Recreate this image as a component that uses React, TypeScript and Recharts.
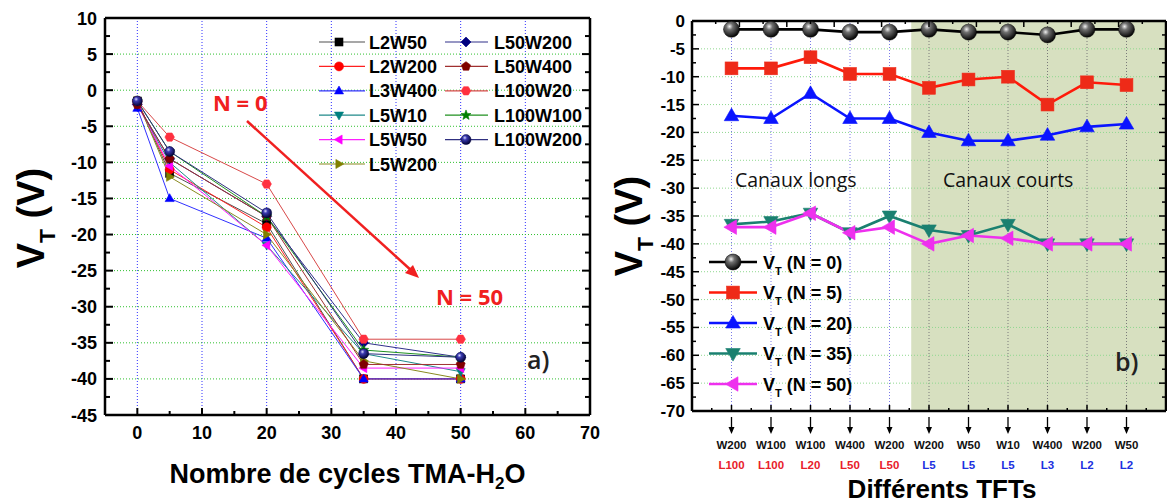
import React from "react";
import {
  LineChart,
  Line,
  XAxis,
  YAxis,
  ReferenceLine,
  ReferenceArea,
  Legend,
  Label,
} from "recharts";

// number of TMA-H2O cycles (N)
const cycles = [0, 5, 20, 35, 50];

// TFTs in the order of panel b)
const devices = ["L100W200", "L100W100", "L100W20", "L50W400", "L50W200", "L5W200", "L5W50", "L5W10", "L3W400", "L2W200", "L2W50"];
const widthLabels = ["W200", "W100", "W100", "W400", "W200", "W200", "W50", "W10", "W400", "W200", "W50"];
const lengthLabels = ["L100", "L100", "L20", "L50", "L50", "L5", "L5", "L5", "L3", "L2", "L2"];

// V_T (V) of each TFT after N cycles
const vtN0 = [-1.5, -1.5, -1.5, -2, -2, -1.5, -2, -2, -2.5, -1.5, -1.5];
const vtN5 = [-8.5, -8.5, -6.5, -9.5, -9.5, -12, -10.5, -10, -15, -11, -11.5];
const vtN20 = [-17, -17.5, -13, -17.5, -17.5, -20, -21.5, -21.5, -20.5, -19, -18.5];
const vtN35 = [-36.5, -36, -34.5, -38, -35, -37.5, -38.5, -36.5, -40, -40, -40];
const vtN50 = [-37, -37, -34.5, -38, -37, -40, -38.5, -39, -40, -40, -40];

// legend order of panel a)
const legendOrder = ["L2W50", "L2W200", "L3W400", "L5W10", "L5W50", "L5W200", "L50W200", "L50W400", "L100W20", "L100W100", "L100W200"];

// ticks
const cycleTicks = [0, 5, 10, 15, 20, 25, 30, 35, 40, 45, 50, 55, 60, 65, 70];
const vtTicksA = [-45, -42.5, -40, -37.5, -35, -32.5, -30, -27.5, -25, -22.5, -20, -17.5, -15, -12.5, -10, -7.5, -5, -2.5, 0, 2.5, 5, 7.5, 10];
const tftTicks = [0.5, 1, 1.5, 2, 2.5, 3, 3.5, 4, 4.5, 5, 5.5, 6, 6.5, 7, 7.5, 8, 8.5, 9, 9.5, 10, 10.5, 11, 11.5];
const vtTicksB = [-70, -67.5, -65, -62.5, -60, -57.5, -55, -52.5, -50, -47.5, -45, -42.5, -40, -37.5, -35, -32.5, -30, -27.5, -25, -22.5, -20, -17.5, -15, -12.5, -10, -7.5, -5, -2.5, 0];

const byCycle = [vtN0, vtN5, vtN20, vtN35, vtN50];

const leftData = cycles.map((c, k) => {
  const row: Record<string, number> = { cycle: c };
  devices.forEach((d, i) => {
    row[d] = byCycle[k][i];
  });
  return row;
});

const rightData = devices.map((d, i) => ({
  pos: i + 1,
  device: d,
  n0: vtN0[i],
  n5: vtN5[i],
  n20: vtN20[i],
  n35: vtN35[i],
  n50: vtN50[i],
}));

const leftStyle: Record<string, { color: string; line: string; shape: string }> = {
  L2W50: { color: "#000000", line: "#505050", shape: "square" },
  L2W200: { color: "#ff0000", line: "#ff2020", shape: "circle" },
  L3W400: { color: "#0000ff", line: "#3030ff", shape: "up" },
  L5W10: { color: "#008080", line: "#208a8a", shape: "down" },
  L5W50: { color: "#ff00ff", line: "#ff20ff", shape: "left" },
  L5W200: { color: "#808000", line: "#8a8a20", shape: "right" },
  L50W200: { color: "#000080", line: "#30308a", shape: "diamond" },
  L50W400: { color: "#800000", line: "#a03030", shape: "pentagon" },
  L100W20: { color: "#ff3040", line: "#d84848", shape: "hexagon" },
  L100W100: { color: "#008000", line: "#209020", shape: "star" },
  L100W200: { color: "#000080", line: "#303080", shape: "ballNavy" },
};

const rightSeries = [
  { key: "n0", color: "#000000", fill: "#000000", shape: "ballBlack" },
  { key: "n5", color: "#ff1a0a", fill: "#ee2a18", shape: "square" },
  { key: "n20", color: "#0a14ff", fill: "#0a14ff", shape: "up" },
  { key: "n35", color: "#1a8070", fill: "#1a8070", shape: "down" },
  { key: "n50", color: "#ee30ee", fill: "#ee30ee", shape: "left" },
];

const FONT = "'Liberation Sans', Arial, sans-serif";
const SOFT = "'Open Sans', 'Liberation Sans', sans-serif";
const SHADE_START = 5.55;

function poly(cx: number, cy: number, r: number, n: number, start: number, inner = 0) {
  const pts: string[] = [];
  const count = inner ? n * 2 : n;
  for (let k = 0; k < count; k++) {
    const a = ((start + (360 / count) * k) * Math.PI) / 180;
    const rr = inner && k % 2 === 1 ? inner : r;
    pts.push(`${(cx + rr * Math.cos(a)).toFixed(2)},${(cy + rr * Math.sin(a)).toFixed(2)}`);
  }
  return pts.join(" ");
}

function Marker({ shape, cx, cy, size, color }: { shape: string; cx: number; cy: number; size: number; color: string }) {
  const r = size / 2;
  const p = { fill: color, stroke: color, strokeWidth: 0.6 };
  switch (shape) {
    case "square":
      return <rect x={cx - r * 0.8} y={cy - r * 0.8} width={r * 1.6} height={r * 1.6} {...p} />;
    case "circle":
      return <circle cx={cx} cy={cy} r={r * 0.9} {...p} />;
    case "up":
      return <polygon points={poly(cx, cy + r * 0.1, r * 1.05, 3, -90)} {...p} />;
    case "down":
      return <polygon points={poly(cx, cy - r * 0.1, r * 1.05, 3, 90)} {...p} />;
    case "left":
      return <polygon points={poly(cx + r * 0.1, cy, r * 1.05, 3, 180)} {...p} />;
    case "right":
      return <polygon points={poly(cx - r * 0.1, cy, r * 1.05, 3, 0)} {...p} />;
    case "diamond":
      return <polygon points={poly(cx, cy, r, 4, -90)} {...p} />;
    case "pentagon":
      return <polygon points={poly(cx, cy, r * 0.95, 5, -90)} {...p} />;
    case "hexagon":
      return <polygon points={poly(cx, cy, r * 0.95, 6, 0)} {...p} />;
    case "star":
      return <polygon points={poly(cx, cy, r * 1.05, 5, -90, r * 0.45)} {...p} />;
    case "ballNavy":
      return <circle cx={cx} cy={cy} r={r} fill="url(#ballNavy)" stroke="#000040" strokeWidth={0.5} />;
    case "ballBlack":
      return <circle cx={cx} cy={cy} r={r} fill="url(#ballBlack)" stroke="#000" strokeWidth={0.5} />;
    default:
      return <circle cx={cx} cy={cy} r={r} {...p} />;
  }
}

const dotFn = (shape: string, color: string, size: number) => (p: any) => {
  if (p.cx == null || p.cy == null) return <g key={`e-${p.index}`} />;
  return <Marker key={`${p.dataKey}-${p.index}`} shape={shape} cx={p.cx} cy={p.cy} size={size} color={color} />;
};

const tickText = (size: number) => ({ fontFamily: FONT, fontWeight: 700, fontSize: size, fill: "#000" });

// ---- panel a) ticks ----
const aBottomTick = (p: any) => {
  const v = p.payload.value;
  const major = v % 10 === 0;
  return (
    <g>
      <line x1={p.x} x2={p.x} y1={p.y} y2={p.y - (major ? 7 : 4)} stroke="#000" strokeWidth={2} />
      {major && (
        <text x={p.x} y={p.y + 24} textAnchor="middle" style={tickText(18)}>
          {v}
        </text>
      )}
    </g>
  );
};
const aTopTick = (p: any) => {
  const major = p.payload.value % 10 === 0;
  return <line x1={p.x} x2={p.x} y1={p.y} y2={p.y + (major ? 7 : 4)} stroke="#000" strokeWidth={2} />;
};
const aLeftTick = (p: any) => {
  const v = p.payload.value;
  const major = v % 5 === 0;
  return (
    <g>
      <line x1={p.x} x2={p.x + (major ? 8 : 5)} y1={p.y} y2={p.y} stroke="#000" strokeWidth={2} />
      {major && (
        <text x={p.x - 8} y={p.y + 6.5} textAnchor="end" style={tickText(18)}>
          {v}
        </text>
      )}
    </g>
  );
};
const aRightTick = (p: any) => {
  const major = p.payload.value % 5 === 0;
  return <line x1={p.x} x2={p.x - (major ? 8 : 5)} y1={p.y} y2={p.y} stroke="#000" strokeWidth={2} />;
};

// ---- panel b) ticks ----
const bBottomTick = (p: any) => {
  const v = p.payload.value;
  const major = Number.isInteger(v);
  const i = v - 1;
  const len = lengthLabels[i];
  const isLong = len ? parseInt(len.slice(1), 10) >= 20 : false;
  return (
    <g>
      <line x1={p.x} x2={p.x} y1={p.y} y2={p.y - (major ? 6 : 3)} stroke="#000" strokeWidth={1.5} />
      {major && widthLabels[i] && (
        <g>
          <line x1={p.x} x2={p.x} y1={p.y + 6} y2={p.y + 18} stroke="#000" strokeWidth={1.3} />
          <polygon points={`${p.x - 3},${p.y + 16} ${p.x + 3},${p.y + 16} ${p.x},${p.y + 23}`} fill="#000" />
          <text x={p.x} y={p.y + 38} textAnchor="middle" style={{ ...tickText(11.5), fill: "#111" }}>
            {widthLabels[i]}
          </text>
          <text x={p.x} y={p.y + 58} textAnchor="middle" style={{ ...tickText(11.5), fill: isLong ? "#e8202a" : "#2030e0" }}>
            {len}
          </text>
        </g>
      )}
    </g>
  );
};
const bTopTick = (p: any) => {
  const major = Number.isInteger(p.payload.value);
  return <line x1={p.x} x2={p.x} y1={p.y} y2={p.y + (major ? 6 : 3)} stroke="#000" strokeWidth={1.5} />;
};
const bLeftTick = (p: any) => {
  const v = p.payload.value;
  const major = v % 5 === 0;
  return (
    <g>
      <line x1={p.x} x2={p.x + (major ? 7 : 4)} y1={p.y} y2={p.y} stroke="#000" strokeWidth={1.5} />
      {major && (
        <text x={p.x - 7} y={p.y + 6} textAnchor="end" style={tickText(17)}>
          {v}
        </text>
      )}
    </g>
  );
};
const bRightTick = (p: any) => {
  const major = p.payload.value % 5 === 0;
  return <line x1={p.x} x2={p.x - (major ? 7 : 4)} y1={p.y} y2={p.y} stroke="#000" strokeWidth={1.5} />;
};

// ---- legends ----
const renderLeftLegend = () => (
  <svg width={290} height={160} style={{ display: "block" }}>
    {legendOrder.map((name, i) => {
      const col = i < 6 ? 0 : 1;
      const row = col === 0 ? i : i - 6;
      const y = 14 + row * 24.4;
      const x0 = col === 0 ? 9 : 135;
      const x1 = col === 0 ? 55 : 178;
      const xm = col === 0 ? 29 : 156;
      const tx = col === 0 ? 59 : 184;
      const s = leftStyle[name];
      return (
        <g key={name}>
          <line x1={x0} x2={x1} y1={y} y2={y} stroke={s.line} strokeWidth={1.2} />
          <Marker shape={s.shape} cx={xm} cy={y} size={10} color={s.color} />
          <text x={tx} y={y + 6.5} style={tickText(18)}>
            {name}
          </text>
        </g>
      );
    })}
  </svg>
);

const renderRightLegend = () => (
  <svg width={170} height={160} style={{ display: "block" }}>
    {rightSeries.map((s, k) => {
      const y = 17 + k * 30.5;
      return (
        <g key={s.key}>
          <line x1={9} x2={57} y1={y} y2={y} stroke={s.color} strokeWidth={2.5} />
          <Marker shape={s.shape} cx={33} cy={y} size={16} color={s.fill} />
          <text x={63} y={y + 6.5} style={tickText(18)}>
            V
            <tspan dy={6} fontSize={11}>
              T
            </tspan>
            <tspan dy={-6}>{` (N = ${cycles[k]})`}</tspan>
          </text>
        </g>
      );
    })}
  </svg>
);

const vtTitle = (cx: number, cy: number, size: number) => () => (
  <text
    x={cx}
    y={cy}
    transform={`rotate(-90 ${cx} ${cy})`}
    textAnchor="middle"
    style={{ fontFamily: FONT, fontWeight: 700, fontSize: size, fill: "#000" }}
  >
    V
    <tspan dy={size * 0.28} fontSize={size * 0.6}>
      T
    </tspan>
    <tspan dy={-size * 0.28}> (V)</tspan>
  </text>
);

const axisLine = { stroke: "#000", strokeWidth: 2.5 };

function PanelA() {
  return (
    <LineChart width={600} height={503} data={leftData} margin={{ top: 17, right: 9, bottom: 0, left: 0 }}>
      {cycleTicks
        .filter((v) => v % 10 === 0 && v < 70)
        .map((v) => (
          <ReferenceLine key={`gx${v}`} x={v} stroke="#3030ff" strokeDasharray="1 2" strokeWidth={1} />
        ))}
      {vtTicksA
        .filter((v) => v % 5 === 0 && v > -45 && v < 10)
        .map((v) => (
          <ReferenceLine key={`gy${v}`} y={v} stroke="#30c030" strokeDasharray="1 2" strokeWidth={1} />
        ))}
      <XAxis
        dataKey="cycle"
        type="number"
        domain={[-5, 70]}
        ticks={cycleTicks}
        interval={0}
        height={88}
        tickSize={0}
        tickMargin={0}
        tickLine={false}
        tick={aBottomTick}
        axisLine={axisLine}
        allowDataOverflow
      >
        <Label
          content={(p: any) => {
            const vb = p.viewBox;
            const cx = vb.x + vb.width / 2;
            return (
              <text x={cx} y={vb.y + 68} textAnchor="middle" style={{ fontFamily: FONT, fontWeight: 700, fontSize: 27, fill: "#000" }}>
                Nombre de cycles TMA-H
                <tspan dy={6} fontSize={17}>
                  2
                </tspan>
                <tspan dy={-6}>O</tspan>
              </text>
            );
          }}
        />
      </XAxis>
      <XAxis
        xAxisId="top"
        orientation="top"
        type="number"
        domain={[-5, 70]}
        ticks={cycleTicks}
        interval={0}
        height={1}
        tickSize={0}
        tickMargin={0}
        tickLine={false}
        tick={aTopTick}
        axisLine={axisLine}
        allowDataOverflow
      />
      <YAxis
        type="number"
        domain={[-45, 10]}
        ticks={vtTicksA}
        interval={0}
        width={105}
        tickSize={0}
        tickMargin={0}
        tickLine={false}
        tick={aLeftTick}
        axisLine={axisLine}
        allowDataOverflow
      >
        <Label content={vtTitle(44, 218, 38)} />
      </YAxis>
      <YAxis
        yAxisId="right"
        orientation="right"
        type="number"
        domain={[-45, 10]}
        ticks={vtTicksA}
        interval={0}
        width={1}
        tickSize={0}
        tickMargin={0}
        tickLine={false}
        tick={aRightTick}
        axisLine={axisLine}
        allowDataOverflow
      />
      {legendOrder.map((name) => (
        <Line
          key={name}
          dataKey={name}
          name={name}
          type="linear"
          stroke={leftStyle[name].line}
          strokeWidth={1}
          dot={dotFn(leftStyle[name].shape, leftStyle[name].color, 10)}
          activeDot={false}
          isAnimationActive={false}
        />
      ))}
      <Legend
        layout="vertical"
        align="center"
        verticalAlign="middle"
        content={renderLeftLegend}
        wrapperStyle={{ position: "absolute", left: 310, top: 28, width: 290, height: 160 }}
      />
    </LineChart>
  );
}

function PanelB() {
  return (
    <LineChart width={567} height={503} data={rightData} margin={{ top: 20, right: 0, bottom: 0, left: 0 }}>
      <ReferenceArea x1={SHADE_START} x2={12} y1={-70} y2={0} fill="#d7e0c0" fillOpacity={1} stroke="none" />
      {rightData.map((d) => (
        <ReferenceLine
          key={`gx${d.pos}`}
          x={d.pos}
          stroke={d.pos < SHADE_START ? "#7a7ae8" : "#7a7a7a"}
          strokeDasharray="1 2"
          strokeWidth={1}
        />
      ))}
      {vtTicksB
        .filter((v) => v % 5 === 0 && v > -70 && v < 0)
        .map((v) => (
          <ReferenceLine key={`gy${v}`} y={v} stroke="#8fd88f" strokeDasharray="1 2" strokeWidth={1} />
        ))}
      <XAxis
        dataKey="pos"
        type="number"
        domain={[0, 12]}
        ticks={tftTicks}
        interval={0}
        height={92}
        tickSize={0}
        tickMargin={0}
        tickLine={false}
        tick={bBottomTick}
        axisLine={axisLine}
        allowDataOverflow
      >
        <Label
          content={(p: any) => {
            const vb = p.viewBox;
            return (
              <text x={vb.x + vb.width / 2 + 13} y={vb.y + 87} textAnchor="middle" style={{ fontFamily: FONT, fontWeight: 700, fontSize: 26, fill: "#000" }}>
                Différents TFTs
              </text>
            );
          }}
        />
      </XAxis>
      <XAxis
        xAxisId="top"
        orientation="top"
        type="number"
        domain={[0, 12]}
        ticks={tftTicks}
        interval={0}
        height={1}
        tickSize={0}
        tickMargin={0}
        tickLine={false}
        tick={bTopTick}
        axisLine={axisLine}
        allowDataOverflow
      />
      <YAxis
        type="number"
        domain={[-70, 0]}
        ticks={vtTicksB}
        interval={0}
        width={92}
        tickSize={0}
        tickMargin={0}
        tickLine={false}
        tick={bLeftTick}
        axisLine={axisLine}
        allowDataOverflow
      >
        <Label content={vtTitle(42, 226, 38)} />
      </YAxis>
      <YAxis
        yAxisId="right"
        orientation="right"
        type="number"
        domain={[-70, 0]}
        ticks={vtTicksB}
        interval={0}
        width={1}
        tickSize={0}
        tickMargin={0}
        tickLine={false}
        tick={bRightTick}
        axisLine={axisLine}
        allowDataOverflow
      />
      {rightSeries.map((s) => (
        <Line
          key={s.key}
          dataKey={s.key}
          type="linear"
          stroke={s.color}
          strokeWidth={2.6}
          dot={dotFn(s.shape, s.fill, 16)}
          activeDot={false}
          isAnimationActive={false}
        />
      ))}
      <Legend
        layout="vertical"
        align="center"
        verticalAlign="middle"
        content={renderRightLegend}
        wrapperStyle={{ position: "absolute", left: 100, top: 245, width: 170, height: 160 }}
      />
    </LineChart>
  );
}

export default function App() {
  return (
    <div style={{ position: "absolute", left: 0, top: 0, width: 1167, height: 503, background: "#fff", overflow: "hidden" }}>
      <svg width={0} height={0} style={{ position: "absolute" }}>
        <defs>
          <radialGradient id="ballNavy" cx="38%" cy="32%" r="70%">
            <stop offset="0%" stopColor="#d8d8ff" />
            <stop offset="30%" stopColor="#3a3ab0" />
            <stop offset="100%" stopColor="#000030" />
          </radialGradient>
          <radialGradient id="ballBlack" cx="38%" cy="32%" r="70%">
            <stop offset="0%" stopColor="#f0f0f0" />
            <stop offset="30%" stopColor="#707070" />
            <stop offset="100%" stopColor="#000000" />
          </radialGradient>
        </defs>
      </svg>
      <div style={{ position: "absolute", left: 0, top: 0 }}>
        <PanelA />
      </div>
      <div style={{ position: "absolute", left: 600, top: 0 }}>
        <PanelB />
      </div>
      <svg width={1167} height={503} style={{ position: "absolute", left: 0, top: 0, pointerEvents: "none" }}>
        <text x={213} y={111} style={{ fontFamily: SOFT, fontWeight: 700, fontSize: 22, fill: "#f02020" }}>
          N = 0
        </text>
        <text x={436} y={305} style={{ fontFamily: SOFT, fontWeight: 700, fontSize: 22, fill: "#f02020" }}>
          N = 50
        </text>
        <line x1={247} y1={121} x2={413} y2={272} stroke="#f02020" strokeWidth={2.5} />
        <polygon points="419,278 405,273 413,265" fill="#f02020" />
        <text x={527} y={369} style={{ fontFamily: SOFT, fontWeight: 600, fontSize: 25, fill: "#222" }}>
          a)
        </text>
        <text x={1115} y={371} style={{ fontFamily: SOFT, fontWeight: 600, fontSize: 25, fill: "#222" }}>
          b)
        </text>
        <text x={735} y={187} style={{ fontFamily: SOFT, fontSize: 19.5, fill: "#111" }}>
          Canaux longs
        </text>
        <text x={943} y={187} style={{ fontFamily: SOFT, fontSize: 19.5, fill: "#111" }}>
          Canaux courts
        </text>
      </svg>
    </div>
  );
}
